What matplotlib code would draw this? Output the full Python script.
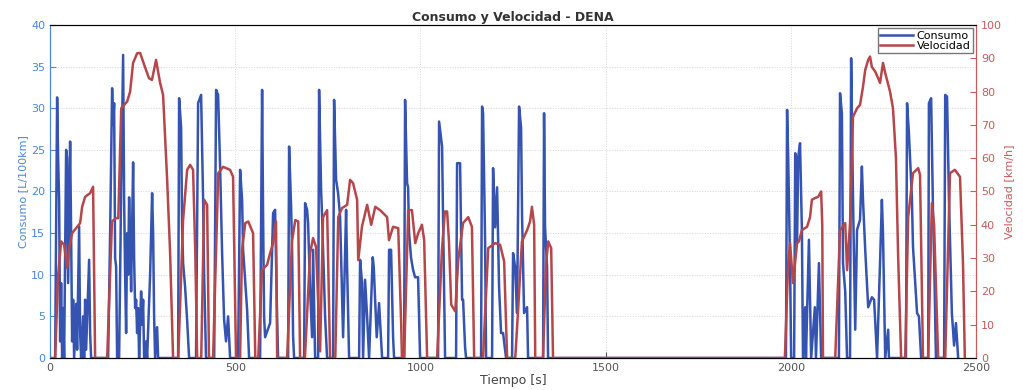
import numpy as np
import matplotlib
matplotlib.use("Agg")
import matplotlib.pyplot as plt
from matplotlib.lines import Line2D

# velocidad [km/h] - tiempo [s]
vel_t = [0, 13.5, 21.6, 29.7, 37.8, 45.9, 51.3, 59.4, 72.9, 81, 86.4, 94.5, 108, 116, 121.5,
         154, 162, 167, 178, 184, 192, 200, 208, 216, 224, 235, 243, 256, 267, 275, 286, 297, 305, 316, 324, 332,
         346, 359, 370, 378, 386, 392, 397,
         408, 416, 424, 429,
         440, 454, 467, 486, 494, 502,
         513, 518, 527, 535, 548, 554,
         562, 572, 586, 594, 602, 610, 613,
         640, 653, 662, 670, 675,
         688, 702, 710, 718, 729, 737, 748, 756,
         770, 778, 788, 802, 810, 818, 829, 832, 842, 856, 867, 878, 891, 910, 915, 926, 940, 948, 950,
         956, 967, 977, 986, 994, 1004, 1010, 1018,
         1045, 1058, 1066, 1072, 1077, 1083, 1094, 1102, 1115, 1129, 1139, 1145,
         1169, 1183, 1202, 1215, 1226, 1234,
         1256, 1264, 1274, 1288, 1296, 1301, 1307, 1310,
         1331, 1339, 1345, 1353, 1358,
         1984, 1993, 1998, 2006, 2017, 2022, 2030, 2044, 2052, 2057, 2065, 2074, 2082, 2085, 2087,
         2120, 2133, 2147, 2152, 2160, 2168, 2179, 2187, 2195, 2201, 2209, 2214, 2219, 2228, 2236, 2241,
         2249, 2255, 2268, 2276, 2284, 2290, 2298,
         2309, 2317, 2330, 2344, 2349, 2357,
         2371, 2381, 2387, 2398,
         2417, 2430, 2443, 2457, 2465, 2470]
vel_kmh = [0, 0, 25, 35, 34, 27, 33, 37.5, 39.4, 40.5, 45.4, 48.4, 49.5, 51.4, 0,
           0, 25, 41, 42, 42, 75, 76, 77, 80, 88.6, 91.5, 91.6, 87.4, 84, 83.5, 89.5, 82.6, 79, 53.5, 31.5, 0,
           0, 41.4, 56.5, 58, 56.5, 31.5, 0,
           0, 47.5, 46, 0,
           0, 55.5, 57.4, 56.5, 54.4, 0,
           0, 32.4, 40.5, 41, 37.5, 0,
           0, 26.4, 28, 31.5, 34.5, 41, 0,
           0, 35, 41.4, 41, 0,
           0, 31.5, 36, 33.4, 2, 42.3, 44.4, 0,
           0, 42.3, 45, 46, 53.5, 52.5, 47.5, 29.4, 39.4, 46, 40, 45.4, 44.4, 42.3, 35.4, 39.4, 39, 10, 0,
           0, 44.4, 44.4, 34.5, 37.5, 40, 35.4, 0,
           0, 32.4, 44, 44, 35, 16, 14, 29.4, 40.5, 42.3, 39.4, 0,
           0, 33, 34.5, 34, 29, 0,
           0, 15, 35, 38.4, 41, 45.4, 40, 0,
           0, 28, 35, 33, 0,
           0, 28.5, 34.5, 22.5, 34.5, 35, 38.4, 39.4, 42.3, 47.5, 48, 48.4, 50, 40, 0,
           0, 38.4, 40.5, 26.4, 40.5, 72.4, 75, 76, 81.4, 86.5, 89.5, 90.5, 87.4, 86, 84, 82.6,
           88.6, 85.6, 80, 75, 60, 30, 0,
           0, 42.3, 55.5, 57, 55, 0,
           0, 46.5, 40, 0,
           0, 55.5, 56.5, 54.4, 28.5, 0]

# consumo [L/100km] - tiempo [s]
cons_t = [13.5, 18.9, 21.6, 24.3, 27, 29.7, 32.4, 35.1, 37.8, 43.2, 45.9, 48.6, 54, 56.7, 59.4, 62.1, 64.8,
          70.2, 72.9, 78.3, 81, 83.7, 89.1, 91.8, 94.5, 97.2, 105.3, 108, 110.7,
          156.6, 162, 167.4, 170.1, 172.8, 175.5, 178.2, 180.9, 186.3, 191.7, 197.1, 199.8, 202.5, 205.2, 207.9,
          210.6, 213.3, 216, 218.7, 224.1, 226.8, 229.5, 232.2, 234.9, 237.6, 240.3, 245.7, 248.4, 251.1, 253.8,
          259.2, 261.9, 270, 275.4, 278.1, 280.8, 283.5, 288.9, 291.6,
          345.6, 348.3, 353.7, 356.4, 359.1, 364.5, 369.9, 375.3,
          394, 399.6, 407.7, 413.1, 415.8, 421,
          443, 448.2, 453.6, 459, 464.4, 469.8, 475, 480.6, 486,
          507.6, 513, 518.4, 521.1, 531.9, 537.3,
          567, 572.4, 575.1, 577.8, 580.5, 594, 602.1, 607.5, 612.9, 615.6,
          642.6, 645.3, 650.7, 653.4, 656.1, 658.8,
          685.8, 688.5, 693.9, 696.6, 702, 707.4, 710.1, 715.5,
          723.6, 726.3, 731.7, 734.4, 737.1, 742.5, 747.9,
          764.1, 766.8, 772.2, 777.6, 783, 791.1, 799.2, 801.9, 807.3,
          834.3, 837, 842.4, 845.1, 850.5, 855.9, 861.3, 871.1, 873.8, 881.9, 888.3, 896.4,
          912.6, 915.3, 920.7, 926.1, 928.8,
          955.8, 958.5, 963.9, 966.6, 969.3, 974.7, 980.1, 985.5, 993.6, 999,
          1047.6, 1050.3, 1058.4, 1061.1, 1066.5,
          1096.2, 1098.9, 1107, 1112.4, 1115.1, 1120.5, 1123.2,
          1163.7, 1166.4, 1169.1, 1174.5, 1177.2,
          1193.4, 1196.1, 1201.5, 1206.9, 1212.3, 1217.7, 1223.1, 1231.2,
          1247.4, 1250.1, 1255.5, 1260.9, 1266.3, 1271.7, 1274.4, 1279.8, 1287.9, 1290.6,
          1331.1, 1333.8, 1336.5, 1341.9, 1344.6,
          1987, 1990, 1993, 1998, 2001,
          2009, 2012, 2017, 2020, 2025, 2030, 2033, 2039, 2041, 2049, 2055, 2065, 2068, 2076, 2082,
          2130, 2133, 2138, 2141, 2147, 2152, 2160, 2163, 2168, 2174, 2179, 2187, 2192, 2195, 2201, 2209,
          2219, 2225, 2233, 2241, 2246, 2249, 2255, 2263, 2265,
          2311, 2314, 2319, 2327, 2330, 2341, 2346, 2352,
          2371, 2373, 2379, 2384, 2387, 2392,
          2414, 2417, 2422, 2427, 2435, 2441, 2446, 2452]
cons_l100 = [0, 31.3, 24, 19, 2, 9, 0, 6, 0, 25, 24, 9, 26, 15, 2, 7, 0,
             6.5, 1, 15.8, 3, 0, 5, 0, 7, 1, 11.8, 3, 0,
             0, 15, 32.4, 28, 30.6, 12, 11, 0, 0, 20, 36.4, 19, 10, 3, 15,
             10, 19.3, 14, 8, 23.5, 12, 6, 7, 3, 6, 0, 8, 4, 7, 0,
             2, 0, 10, 19.8, 15, 5, 0, 3.7, 0,
             0, 31.2, 27.7, 15.7, 11.4, 8.5, 4.6, 0,
             0, 30.6, 31.6, 19, 10, 0,
             0, 32.2, 31.6, 23, 12.6, 4.6, 2, 5, 0,
             0, 22.6, 19, 13, 5.8, 0,
             0, 32.2, 17, 5, 2.5, 4.2, 17.4, 17.8, 5, 0,
             0, 25.4, 18.2, 13, 2.6, 0,
             0, 18.6, 17.8, 16.2, 8.2, 2.5, 13, 0,
             0, 32.2, 20.2, 17, 13, 5, 0,
             0, 31, 21.4, 19.8, 17, 2.5, 17.8, 11, 0,
             0, 11.8, 9, 0, 9.4, 5, 0, 12.1, 11, 2.5, 6.6, 0,
             0, 13, 13, 2.5, 0,
             0, 31, 21, 20.5, 15, 12, 10.6, 9.7, 9.7, 0,
             0, 28.4, 25.4, 16.6, 0,
             0, 23.4, 23.4, 7, 7, 1.3, 0,
             0, 30.2, 29.4, 14.2, 0,
             0, 22.8, 15.7, 20.5, 8.5, 3, 3, 0,
             0, 12.6, 11, 5.4, 30.2, 27.7, 17, 5.4, 6.1, 0,
             0, 29.4, 15.7, 11, 0,
             0, 29.8, 24.1, 11.4, 0,
             0, 24.6, 13.8, 24.1, 25.8, 15.4, 0, 6.1, 0, 14.2, 0, 6.1, 0, 11.4, 0,
             0, 31.8, 29.4, 11.4, 8, 0, 0, 36, 19.3, 3.4, 15.4, 16.6, 23, 19, 13, 6.1,
             7.3, 7, 0, 11.4, 19, 15, 0, 3.4, 0,
             0, 30.6, 27, 19.3, 13.4, 5.4, 5, 0,
             0, 30.6, 31.2, 17.8, 12, 0,
             0, 31.6, 31.4, 19.3, 5.4, 1.5, 4.2, 0]

blue = '#3553b0'
red = '#b5474b'
axblue = '#4a86d8'
axred = '#c85a5a'

fig = plt.figure(figsize=(10.23, 3.9), dpi=100)
ax = fig.add_axes([0.049, 0.082, 0.905, 0.854])
ax2 = ax.twinx()

ax.plot(cons_t, cons_l100, color=blue, lw=1.8)
ax2.plot(vel_t, vel_kmh, color=red, lw=1.8)

ax.set_xlim(0, 2500)
ax.set_ylim(0, 40)
ax2.set_ylim(0, 100)
ax.set_xticks(np.arange(0, 2501, 500))
ax.set_yticks(np.arange(0, 41, 5))
ax2.set_yticks(np.arange(0, 101, 10))

ax.grid(True, linestyle=':', color='#d5d5d5', lw=0.7)
ax.tick_params(axis='x', direction='in', labelsize=8, colors='#555555', length=4)
ax.tick_params(axis='y', direction='in', labelsize=8, colors=axblue, length=4)
ax2.tick_params(axis='y', direction='in', labelsize=8, colors=axred, length=4)
ax.spines['left'].set_color(axblue)
ax2.spines['left'].set_color(axblue)
ax2.spines['right'].set_color(axred)
ax.spines['right'].set_color(axred)

ax.set_ylabel('Consumo [L/100km]', color=axblue, fontsize=8, labelpad=2)
ax2.set_ylabel('Velocidad [km/h]', color=axred, fontsize=8, labelpad=2)
ax.set_xlabel('Tiempo [s]', fontsize=9, color='#444444', labelpad=1)
ax.set_title('Consumo y Velocidad - DENA', fontsize=9, fontweight='bold', color='#333333', pad=3)

handles = [Line2D([], [], color=blue, lw=1.8), Line2D([], [], color=red, lw=1.8)]
leg = ax2.legend(handles, ['Consumo', 'Velocidad'], loc='upper right', fontsize=8,
                 frameon=True, fancybox=False, edgecolor='#555555', borderpad=0.2,
                 handlelength=3, handletextpad=0.3, labelspacing=0.05, borderaxespad=0.3)

fig.savefig('out.png', dpi=100)
